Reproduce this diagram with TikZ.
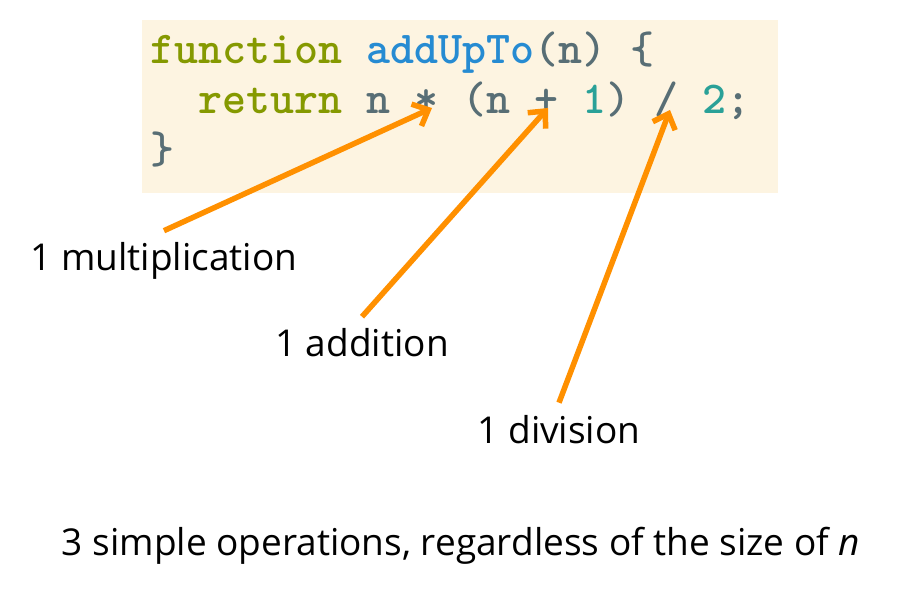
\documentclass[tikz,border=0pt]{standalone}
\usepackage{fontspec}
\setmainfont{Open Sans}
\usetikzlibrary{arrows.meta}

% Solarized-like code colours
\definecolor{codebg}{HTML}{FDF4E1}
\definecolor{codetext}{HTML}{586E75}
\definecolor{codekey}{HTML}{859900}
\definecolor{codefun}{HTML}{268BD2}
\definecolor{codenum}{HTML}{2AA198}
\definecolor{oporange}{HTML}{FF9000}

\tikzset{
  codeline/.style={anchor=base west, inner sep=0pt, text=codetext,
    font=\ttfamily\bfseries\fontsize{45.7}{50}\selectfont},
  oplabel/.style={anchor=base, inner sep=12pt, font=\fontsize{37}{44}\selectfont},
  oparrow/.style={draw=oporange, line width=5.5pt,
    -{Straight Barb[length=13pt,width=24pt]}}
}

\begin{document}
\begin{tikzpicture}[x=1pt,y=-1pt]
	% Canvas of the reference
	\useasboundingbox[fill=white] (0,0) rectangle (898,596);
	
	% Width of one code character
	\def\cw{24}
	
	% Code box
	\fill[codebg] (142,20) rectangle (778,193);
	\node[codeline] (line1) at (150,64) {\textcolor{codekey}{function} \textcolor{codefun}{addUpTo}(n) \{};
	\node[codeline] (line2) at (150+2*\cw,114) {\textcolor{codekey}{return} n * (n + \textcolor{codenum}{1}) / \textcolor{codenum}{2};};
	\node[codeline] (line3) at (150,164) {\}};
	
	% Points on the operators
	\coordinate (mul) at (150+11.5*\cw+6,108);
	\coordinate (add) at (150+16.5*\cw+2,108);
	\coordinate (div) at (150+21.5*\cw+4,110);
	
	% Labels of the operations
	\node[oplabel] (mullabel) at (164,271) {1 multiplication};
	\node[oplabel] (addlabel) at (362,357) {1 addition};
	\node[oplabel] (divlabel) at (559,443) {1 division};
	
	% Arrows from the labels to the operators
	\draw[oparrow] (mullabel.north) -- (mul);
	\draw[oparrow] (addlabel.north) -- (add);
	\draw[oparrow] (divlabel.north) -- (div);
	
	% Summary line
	\node[oplabel] (summary) at (461,555) {3 simple operations, regardless of the size of \textit{n}};
\end{tikzpicture}
\end{document}
